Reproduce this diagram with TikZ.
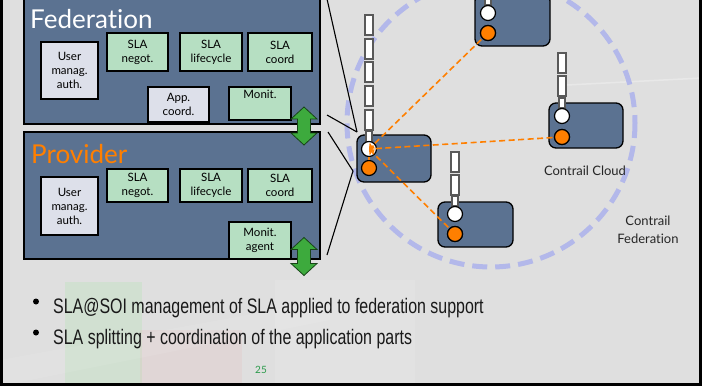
\documentclass[tikz,border=0pt]{standalone}
\usepackage{fontspec}
\setmainfont[Ligatures={NoCommon}]{Lato}
\newfontfamily\bulletfont[FakeStretch=0.76]{Liberation Sans}
\usetikzlibrary{arrows.meta}

\definecolor{slide}{HTML}{DFDFDF}
\definecolor{slate}{HTML}{5B7291}
\definecolor{mint}{HTML}{B6DFC2}
\definecolor{pale}{HTML}{DDE0EA}
\definecolor{orng}{HTML}{FF7F00}
\definecolor{arrowgreen}{HTML}{3DAA3D}
\definecolor{lavender}{HTML}{B3B8EA}
\definecolor{numgreen}{HTML}{2A9A4A}

\tikzset{
  panel/.style={draw=black, line width=1.6pt, fill=slate},
  greenbox/.style={draw=black, line width=1.3pt, fill=mint, inner sep=0pt},
  greybox/.style={draw=black, line width=1.3pt, fill=pale, inner sep=0pt},
  boxtext/.style={font=\fontsize{11.5}{14}\selectfont, align=center, inner sep=0pt},
  cloudnode/.style={draw=black, line width=1.3pt, fill=slate, rounded corners=7pt},
  inport/.style={circle, draw=black, line width=1.2pt, fill=white, minimum size=15pt, inner sep=0pt},
  outport/.style={circle, draw=black, line width=1.2pt, fill=orng, minimum size=15pt, inner sep=0pt},
  queuecell/.style={draw=black!65, line width=1.8pt, fill=white},
  link/.style={orng, line width=1.6pt, dash pattern=on 6pt off 3.5pt},
  zoomline/.style={black, line width=1.1pt},
  cloudlabel/.style={font=\fontsize{13}{16}\selectfont, align=center, text=black!85},
  bullettext/.style={anchor=base west, inner sep=0pt, font=\bulletfont\fontsize{21}{25}\selectfont, text=black!90},
  titletext/.style={anchor=base west, inner sep=0pt, font=\fontsize{26}{31}\selectfont},
  % vertical two-headed block arrow
  updown/.pic={
    \filldraw[fill=arrowgreen, draw=black!60!arrowgreen, line width=0.8pt]
      (0,-19) -- (13,-7) -- (6.5,-7) -- (6.5,7) -- (13,7) -- (0,19)
      -- (-13,7) -- (-6.5,7) -- (-6.5,-7) -- (-13,-7) -- cycle;
  },
}

\begin{document}
\begin{tikzpicture}[x=1pt,y=-1pt]
\useasboundingbox (0,0) rectangle (702,386);
\clip (0,0) rectangle (702,386);

% slide background with faint decoration
\fill[slide] (0,0) rectangle (702,386);
\fill[white, opacity=0.10] (275,280) rectangle (415,386);
\fill[green!40!slide, opacity=0.15] (65,282) rectangle (142,386);
\fill[red!25!slide, opacity=0.15] (140,330) rectangle (242,386);
\fill[white, opacity=0.08] (0,386) -- (0,360) -- (330,300) -- (330,320) -- cycle;
\draw[white, opacity=0.3, line width=1.5pt] (567,85) -- (702,78);

% federation panel
\draw[panel] (24,-10) rectangle (320,124);
\node[titletext, text=white] (fedtitle) at (30,28) {Federation};
\node[greybox, minimum width=57pt, minimum height=57pt] (fuser) at (69.5,70.5) {};
\node[boxtext] at (fuser) {User\\manag.\\auth.};
\node[greenbox, minimum width=61pt, minimum height=38pt] (fneg) at (137.5,52) {};
\node[boxtext] at (fneg) {SLA\\negot.};
\node[greenbox, minimum width=62pt, minimum height=38pt] (flife) at (211,52) {};
\node[boxtext] at (flife) {SLA\\lifecycle};
\node[greenbox, minimum width=64pt, minimum height=38pt] (fcoord) at (280,52) {};
\node[boxtext] at (fcoord) {SLA\\coord};
\node[greybox, minimum width=61pt, minimum height=35pt] (fapp) at (178.5,104.5) {};
\node[boxtext] at (fapp) {App.\\coord.};
\node[greenbox, minimum width=62pt, minimum height=33pt] (fmon) at (260,103.5) {};
\node[boxtext, anchor=north] at (fmon.north) [yshift=-4pt] {Monit.};

% provider panel
\draw[panel] (24,132) rectangle (320,259);
\node[titletext, text=orng] (provtitle) at (31,163) {Provider};
\node[greybox, minimum width=57pt, minimum height=58pt] (puser) at (69.5,206) {};
\node[boxtext] at (puser) {User\\manag.\\auth.};
\node[greenbox, minimum width=61pt, minimum height=33pt] (pneg) at (137.5,185.5) {};
\node[boxtext] at (pneg) {SLA\\negot.};
\node[greenbox, minimum width=62pt, minimum height=33pt] (plife) at (211,185.5) {};
\node[boxtext] at (plife) {SLA\\lifecycle};
\node[greenbox, minimum width=64pt, minimum height=33pt] (pcoord) at (280,185.5) {};
\node[boxtext] at (pcoord) {SLA\\coord};
\node[greenbox, minimum width=62pt, minimum height=37pt] (pmon) at (260,240.5) {};
\node[boxtext] at (pmon) {Monit.\\agent};

% exchange between the panels and towards the cloud
\pic at (304,126) {updown};
\pic at (304,256.5) {updown};

% contrail federation boundary
\draw[lavender, line width=5pt, dash pattern=on 15pt off 8pt] (491,123) circle (144);

% cloud members
\node[cloudnode, minimum width=74pt, minimum height=47pt] (na) at (394,158.5) {};
\node[cloudnode, minimum width=75pt, minimum height=52pt] (nb) at (512.5,20) {};
\node[cloudnode, minimum width=74pt, minimum height=45pt] (nc) at (586,125.5) {};
\node[cloudnode, minimum width=75pt, minimum height=45pt] (nd) at (475.5,224.5) {};

% message queues
\foreach \y in {15,39,62,86,110}
  \draw[queuecell] (365,\y) rectangle ++(8,20);
\draw[queuecell] (366,131) rectangle (372,142);
\foreach \y in {53,76}
  \draw[queuecell] (558,\y) rectangle ++(8,20);
\draw[queuecell] (559,98) rectangle (565,108);
\foreach \y in {152,175}
  \draw[queuecell] (451,\y) rectangle ++(8,20);
\draw[queuecell] (452,196) rectangle (458,206);
\draw[queuecell] (485,-4) rectangle (491,5);

% ports
\node[inport] (ain) at (369,149) {};
\node[outport] (aout) at (369,168) {};
\node[inport] (bin) at (488,13) {};
\node[outport] (bout) at (488,33) {};
\node[inport] (cin) at (562,116) {};
\node[outport] (cout) at (562,137) {};
\node[inport] (din) at (455,214) {};
\node[outport] (dout) at (455,234) {};

% links towards the coordinating member
\draw[orng, line width=1.6pt] (ain) -- (aout);
\draw[link, -{Straight Barb[length=3.5pt,width=6pt]}] (bout.center) -- (ain.center);
\draw[link, -{Straight Barb[length=3.5pt,width=6pt]}] (cout.center) -- (ain.center);
\draw[link, -{Straight Barb[length=3.5pt,width=6pt]}] (dout.center) -- (ain.center);
\node[outport] at (bout) {};
\node[outport] at (cout) {};
\node[outport] at (dout) {};

% zoom lines from the panels to the member
\coordinate (fedtop) at (325,-10);
\coordinate (fedbot) at (327,115);
\coordinate (provtop) at (328,132);
\coordinate (provbot) at (327,255);
\coordinate (atop) at (357,132);
\coordinate (amid) at (353,171);
\draw[zoomline] (fedtop) -- (atop);
\draw[zoomline] (fedbot) -- (atop);
\draw[zoomline] (provtop) -- (amid);
\draw[zoomline] (provbot) -- (amid);

% labels
\node[cloudlabel] (cloudlbl) at (585,171) {Contrail Cloud};
\node[cloudlabel] (fedlbl) at (648,229.5) {Contrail\\[2pt]Federation};

% bullets
\fill[black] (36,301.5) circle (3);
\fill[black] (36,332.5) circle (3);
\node[bullettext] (b1) at (53,313) {SLA@SOI management of SLA applied to federation support};
\node[bullettext] (b2) at (53,344) {SLA splitting + coordination of the application parts};

% page number
\node[font=\fontsize{10}{12}\selectfont, text=numgreen] (pagenum) at (261,370) {25};

% slide frame
\draw[black, line width=3pt] (1.5,-5) -- (1.5,384.5) -- (700.5,384.5) -- (700.5,-5);
\end{tikzpicture}
\end{document}
